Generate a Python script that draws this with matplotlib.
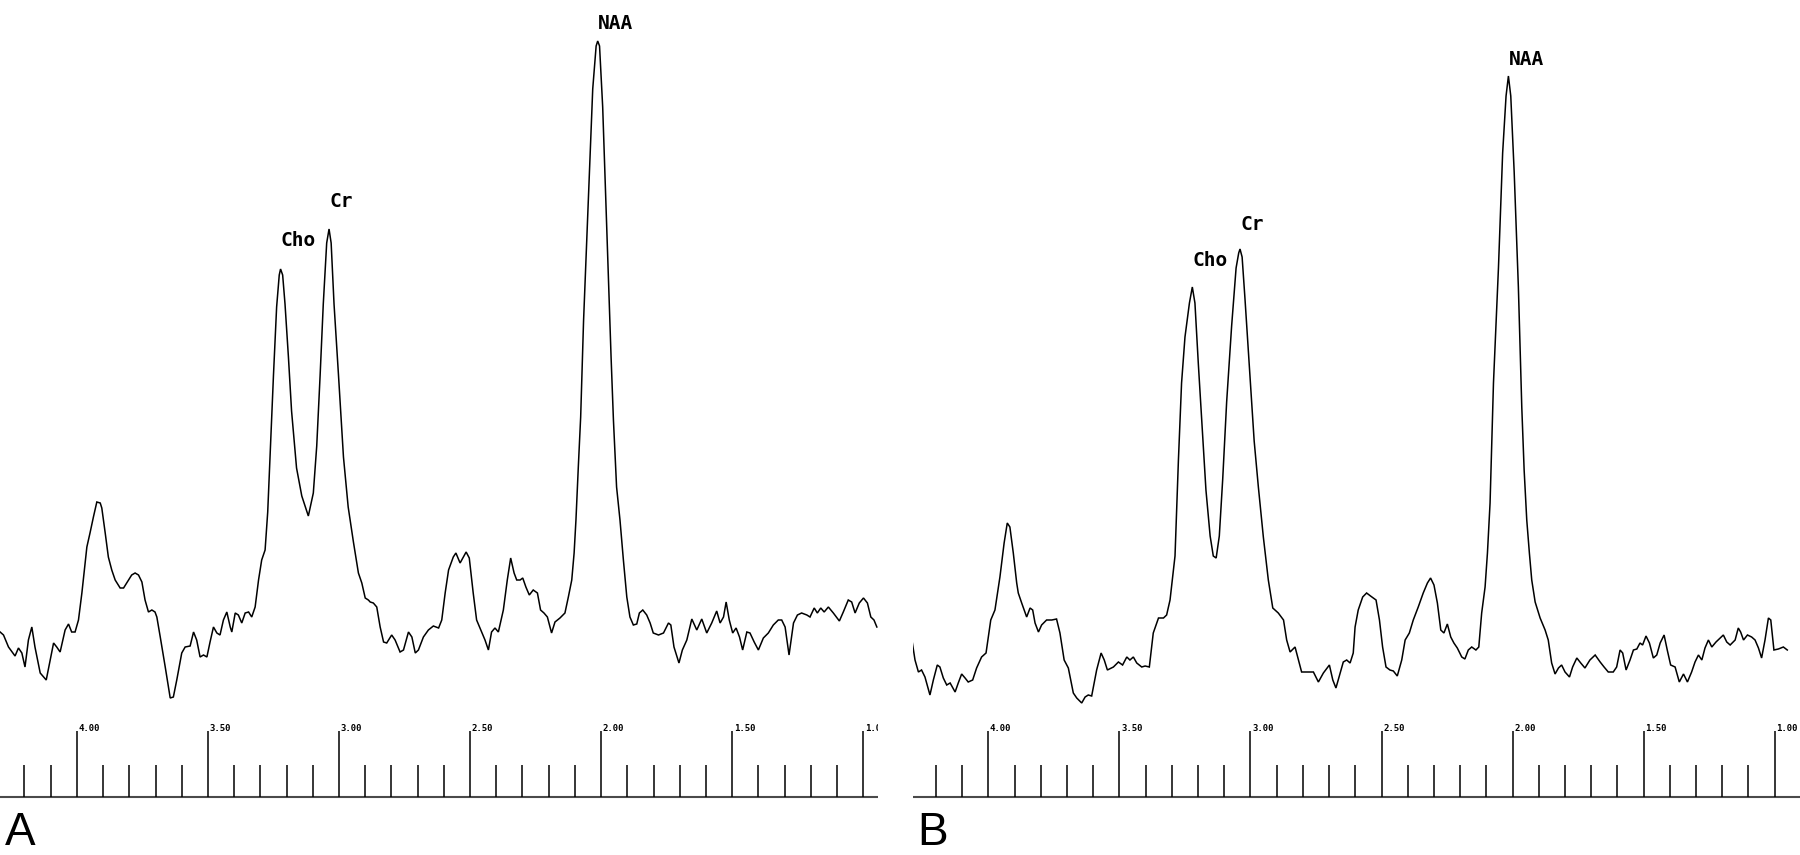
import matplotlib
matplotlib.use("Agg")
import matplotlib.pyplot as plt

OUTPUT_FILE = "out.png"

# chemical shift (ppm) and signal (a.u.)
PPM_A = [
    4.293, 4.280, 4.261, 4.236, 4.223, 4.210, 4.198, 4.185, 4.172, 4.160,
    4.140, 4.117, 4.102, 4.089, 4.077, 4.064, 4.045, 4.032, 4.020, 4.007,
    3.994, 3.981, 3.962, 3.950, 3.937, 3.924, 3.911, 3.905, 3.892, 3.880,
    3.867, 3.854, 3.835, 3.822, 3.810, 3.791, 3.778, 3.765, 3.752, 3.740,
    3.727, 3.714, 3.702, 3.695, 3.682, 3.663, 3.644, 3.632, 3.619, 3.600,
    3.587, 3.568, 3.555, 3.543, 3.530, 3.517, 3.504, 3.492, 3.479, 3.466,
    3.454, 3.441, 3.428, 3.415, 3.409, 3.396, 3.384, 3.371, 3.358, 3.345,
    3.333, 3.320, 3.307, 3.295, 3.282, 3.272, 3.263, 3.250, 3.238, 3.228,
    3.223, 3.215, 3.206, 3.193, 3.181, 3.162, 3.142, 3.117, 3.098, 3.085,
    3.072, 3.060, 3.047, 3.038, 3.030, 3.019, 3.002, 2.983, 2.965, 2.945,
    2.926, 2.913, 2.900, 2.888, 2.881, 2.869, 2.856, 2.843, 2.830, 2.818,
    2.799, 2.786, 2.767, 2.754, 2.735, 2.722, 2.709, 2.697, 2.678, 2.659,
    2.640, 2.620, 2.608, 2.595, 2.582, 2.564, 2.554, 2.538, 2.515, 2.503,
    2.488, 2.475, 2.456, 2.443, 2.430, 2.418, 2.405, 2.392, 2.373, 2.358,
    2.345, 2.332, 2.322, 2.309, 2.299, 2.287, 2.274, 2.259, 2.243, 2.231,
    2.218, 2.205, 2.189, 2.176, 2.157, 2.138, 2.125, 2.112, 2.103, 2.096,
    2.087, 2.078, 2.067, 2.048, 2.032, 2.019, 2.013, 2.006, 1.994, 1.978,
    1.962, 1.953, 1.941, 1.928, 1.915, 1.902, 1.890, 1.877, 1.864, 1.854,
    1.841, 1.826, 1.813, 1.801, 1.781, 1.762, 1.743, 1.734, 1.722, 1.703,
    1.690, 1.673, 1.654, 1.635, 1.616, 1.597, 1.578, 1.559, 1.546, 1.533,
    1.523, 1.511, 1.498, 1.485, 1.472, 1.460, 1.444, 1.432, 1.416, 1.400,
    1.381, 1.362, 1.343, 1.324, 1.311, 1.298, 1.283, 1.266, 1.251, 1.235,
    1.215, 1.203, 1.187, 1.175, 1.162, 1.149, 1.133, 1.114, 1.091, 1.076,
    1.057, 1.044, 1.031, 1.015, 0.999, 0.984, 0.971, 0.959, 0.948,
]
SIGNAL_A = [
    165, 162, 150, 141, 149, 144, 130, 157, 170, 150,
    124, 117, 137, 154, 150, 145, 167, 173, 165, 165,
    177, 204, 250, 264, 280, 295, 294, 289, 264, 240,
    227, 217, 209, 209, 214, 222, 224, 222, 215, 197,
    185, 187, 185, 180, 160, 130, 99, 100, 117, 144,
    150, 151, 165, 157, 140, 142, 140, 155, 170, 164,
    162, 177, 185, 170, 165, 184, 182, 174, 184, 185,
    180, 190, 217, 237, 247, 285, 340, 422, 490, 522,
    528, 522, 493, 440, 386, 329, 301, 281, 304, 351,
    422, 493, 554, 568, 554, 493, 422, 340, 290, 255,
    224, 214, 199, 197, 195, 194, 190, 170, 155, 154,
    162, 157, 145, 147, 165, 160, 144, 147, 160, 167,
    171, 169, 177, 204, 227, 240, 244, 234, 245, 239,
    204, 177, 165, 157, 147, 165, 169, 165, 187, 217,
    239, 224, 217, 217, 219, 210, 202, 207, 204, 187,
    184, 180, 164, 175, 179, 184, 200, 217, 244, 277,
    330, 380, 476, 601, 708, 751, 756, 751, 690, 565,
    440, 377, 310, 277, 237, 200, 180, 172, 173, 184,
    187, 182, 174, 164, 162, 164, 174, 172, 150, 134,
    147, 157, 178, 167, 178, 164, 174, 186, 174, 180,
    195, 177, 164, 169, 160, 147, 165, 164, 155, 147,
    159, 164, 172, 177, 177, 170, 142, 174, 182, 184,
    182, 180, 189, 184, 189, 185, 190, 184, 176, 185,
    197, 195, 184, 194, 199, 194, 180, 177, 170,
]

# chemical shift (ppm) and signal (a.u.)
PPM_B = [
    4.293, 4.280, 4.267, 4.255, 4.242, 4.223, 4.210, 4.195, 4.185, 4.172,
    4.159, 4.146, 4.127, 4.115, 4.102, 4.089, 4.077, 4.060, 4.045, 4.026,
    4.009, 3.991, 3.975, 3.956, 3.940, 3.928, 3.918, 3.905, 3.892, 3.886,
    3.873, 3.854, 3.841, 3.831, 3.822, 3.809, 3.797, 3.778, 3.758, 3.740,
    3.727, 3.711, 3.695, 3.676, 3.663, 3.644, 3.631, 3.619, 3.606, 3.587,
    3.570, 3.558, 3.546, 3.523, 3.504, 3.488, 3.472, 3.460, 3.447, 3.434,
    3.415, 3.402, 3.386, 3.371, 3.351, 3.332, 3.320, 3.307, 3.288, 3.275,
    3.263, 3.250, 3.233, 3.222, 3.212, 3.199, 3.186, 3.170, 3.154, 3.142,
    3.131, 3.119, 3.106, 3.091, 3.072, 3.055, 3.045, 3.040, 3.032, 3.021,
    3.004, 2.986, 2.970, 2.951, 2.932, 2.915, 2.894, 2.874, 2.862, 2.849,
    2.830, 2.817, 2.805, 2.786, 2.760, 2.741, 2.722, 2.699, 2.686, 2.674,
    2.658, 2.646, 2.633, 2.620, 2.608, 2.601, 2.589, 2.572, 2.557, 2.542,
    2.521, 2.508, 2.496, 2.483, 2.468, 2.455, 2.440, 2.423, 2.410, 2.394,
    2.379, 2.360, 2.341, 2.325, 2.313, 2.300, 2.287, 2.274, 2.262, 2.249,
    2.236, 2.224, 2.211, 2.194, 2.182, 2.169, 2.156, 2.140, 2.129, 2.118,
    2.105, 2.096, 2.086, 2.073, 2.054, 2.038, 2.025, 2.016, 2.007, 1.994,
    1.978, 1.965, 1.956, 1.946, 1.936, 1.927, 1.914, 1.895, 1.876, 1.864,
    1.851, 1.838, 1.825, 1.813, 1.800, 1.783, 1.771, 1.755, 1.740, 1.724,
    1.705, 1.685, 1.666, 1.651, 1.635, 1.616, 1.603, 1.590, 1.580, 1.567,
    1.552, 1.539, 1.526, 1.514, 1.504, 1.491, 1.478, 1.463, 1.450, 1.437,
    1.422, 1.410, 1.397, 1.380, 1.364, 1.348, 1.333, 1.317, 1.304, 1.291,
    1.278, 1.266, 1.253, 1.240, 1.224, 1.208, 1.196, 1.183, 1.170, 1.151,
    1.139, 1.130, 1.119, 1.104, 1.088, 1.075, 1.062, 1.050, 1.037, 1.024,
    1.015, 1.003, 0.986, 0.967, 0.952,
]
SIGNAL_B = [
    159, 137, 125, 127, 120, 102, 117, 132, 130, 119,
    112, 114, 105, 114, 123, 119, 115, 117, 129, 140,
    144, 177, 187, 220, 254, 274, 270, 244, 214, 204,
    194, 180, 189, 187, 174, 165, 172, 177, 177, 178,
    164, 137, 129, 104, 99, 94, 100, 102, 101, 127,
    144, 137, 127, 130, 135, 132, 140, 137, 140, 134,
    130, 131, 130, 164, 179, 179, 182, 197, 241, 337,
    414, 460, 494, 510, 494, 433, 376, 307, 261, 241,
    239, 261, 318, 395, 471, 529, 544, 548, 540, 498,
    429, 356, 310, 260, 217, 189, 184, 177, 157, 145,
    150, 137, 125, 125, 125, 115, 124, 132, 117, 109,
    124, 135, 137, 134, 144, 170, 187, 200, 204, 201,
    197, 177, 150, 130, 127, 126, 121, 137, 157, 164,
    177, 190, 204, 214, 219, 212, 194, 167, 164, 173,
    160, 154, 149, 140, 138, 147, 150, 147, 150, 184,
    210, 244, 294, 414, 529, 644, 701, 721, 701, 625,
    510, 390, 327, 277, 244, 217, 195, 179, 167, 157,
    134, 123, 129, 132, 125, 120, 130, 139, 134, 129,
    137, 142, 135, 130, 125, 125, 130, 147, 144, 127,
    137, 147, 148, 154, 152, 161, 154, 139, 142, 154,
    162, 147, 132, 130, 115, 123, 115, 125, 135, 142,
    137, 149, 157, 150, 155, 159, 162, 155, 152, 157,
    169, 165, 157, 162, 160, 157, 149, 139, 157, 179,
    177, 147, 148, 150, 147,
]

PEAK_NAMES = ["Cho", "Cr", "NAA"]
LABEL_PPM_A = [3.223, 3.038, 2.013]
LABEL_Y_A = [551, 590, 768]
LABEL_PPM_B = [3.222, 3.040, 2.016]
LABEL_Y_B = [531, 567, 732]

MAJOR_TICKS = [4.0, 3.5, 3.0, 2.5, 2.0, 1.5, 1.0]
MAJOR_LABELS = ["4.00", "3.50", "3.00", "2.50", "2.00", "1.50", "1.00"]
MINOR_TICKS = [4.2, 4.1, 3.9, 3.8, 3.7, 3.6, 3.4, 3.3, 3.2, 3.1,
               2.9, 2.8, 2.7, 2.6, 2.4, 2.3, 2.2, 2.1, 1.9, 1.8,
               1.7, 1.6, 1.4, 1.3, 1.2, 1.1]

MONO = "DejaVu Sans Mono"


def draw_panel(ax, ppm, signal, label_ppm, label_y, xlim):
    ax.plot(ppm, signal, color="black", lw=1.1, solid_joinstyle="miter")

    # ppm ruler under the spectrum
    ax.axhline(0, color="#4a4a4a", lw=1.5)
    ax.vlines(MAJOR_TICKS, 0, 66, color="black", lw=1.1)
    ax.vlines(MINOR_TICKS, 0, 32, color="black", lw=1.1)
    for tick, text in zip(MAJOR_TICKS, MAJOR_LABELS):
        ax.text(tick - 0.006, 66, text, fontsize=6.5, family=MONO,
                weight="bold", va="baseline", ha="left", clip_on=True)

    for name, x, y in zip(PEAK_NAMES, label_ppm, label_y):
        ax.text(x, y, name, fontsize=14, family=MONO, weight="bold",
                va="baseline", ha="left")

    ax.set_xlim(xlim)
    ax.set_ylim(-58, 797)
    ax.axis("off")


def main():
    fig = plt.figure(figsize=(18, 8.55), dpi=100)
    fig.patch.set_facecolor("white")

    ax_a = fig.add_axes([0, 0, 878 / 1800, 1])
    draw_panel(ax_a, PPM_A, SIGNAL_A, LABEL_PPM_A, LABEL_Y_A, (4.2934, 0.9436))

    ax_b = fig.add_axes([912.7 / 1800, 0, 887.3 / 1800, 1])
    draw_panel(ax_b, PPM_B, SIGNAL_B, LABEL_PPM_B, LABEL_Y_B, (4.2888, 0.9035))

    fig.text(5 / 1800, 0.5 / 855, "A", fontsize=33, family="Liberation Sans",
             va="bottom")
    fig.text(917 / 1800, 0.5 / 855, "B", fontsize=33, family="Liberation Sans",
             va="bottom")

    fig.savefig(OUTPUT_FILE, dpi=100, facecolor="white")
    plt.close(fig)


if __name__ == "__main__":
    main()
